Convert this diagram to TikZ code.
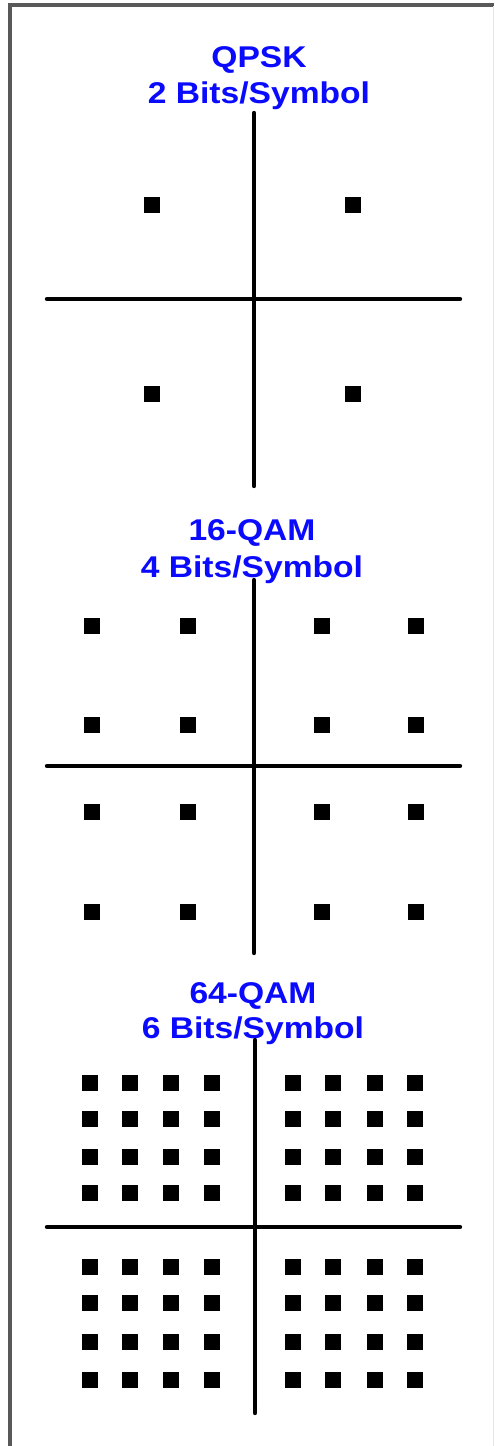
\documentclass[tikz,border=0pt]{standalone}
\usepackage{fontspec}
\setmainfont{Liberation Sans}
\begin{document}
\begin{tikzpicture}[x=0.5pt,y=-0.5pt,
  axis/.style={line width=2.2pt,black,line cap=round},
  dotstyle/.style={fill=black},
  ttl/.style={anchor=base,inner sep=0pt,text=titleblue,font=\fontsize{15pt}{18pt}\selectfont\bfseries}]
\definecolor{titleblue}{RGB}{10,10,255}
\useasboundingbox (0,0) rectangle (494,1446);
\fill[white] (0,0) rectangle (494,1446);
% frame
\draw[line width=1.8pt,black!65] (10,1446) -- (10,5) -- (494,5);
\draw[line width=0.5pt,gray!20] (493,6) -- (493,1446);
% titles
\node[ttl] (t1a) at (259,67) {\scalebox{1.12}[1]{QPSK}};
\node[ttl] (t1b) at (259,103) {\scalebox{1.12}[1]{2 Bits/Symbol}};
\node[ttl] (t2a) at (252,540) {\scalebox{1.12}[1]{16-QAM}};
\node[ttl] (t2b) at (252,577) {\scalebox{1.12}[1]{4 Bits/Symbol}};
\node[ttl] (t3a) at (253,1003) {\scalebox{1.12}[1]{64-QAM}};
\node[ttl] (t3b) at (253,1038) {\scalebox{1.12}[1]{6 Bits/Symbol}};
% axes
\draw[axis] (47,299) -- (460,299);
\draw[axis] (254,113) -- (254,486);
\draw[axis] (47,766) -- (460,766);
\draw[axis] (254,580) -- (254,953);
\draw[axis] (47,1227) -- (460,1227);
\draw[axis] (255,1040) -- (255,1413);
% QPSK
\foreach \x in {152,353}
  \foreach \y in {205,394}
    \fill[dotstyle] (\x-8,\y-8) rectangle (\x+8,\y+8);
% 16-QAM
\foreach \x in {92,188,322,416}
  \foreach \y in {626,725,812,912}
    \fill[dotstyle] (\x-8,\y-8) rectangle (\x+8,\y+8);
% 64-QAM
\foreach \x in {90,130,171,212,293,333,375,415}
  \foreach \y in {1083,1119,1157,1193,1267,1303,1342,1380}
    \fill[dotstyle] (\x-8,\y-8) rectangle (\x+8,\y+8);
\end{tikzpicture}
\end{document}
